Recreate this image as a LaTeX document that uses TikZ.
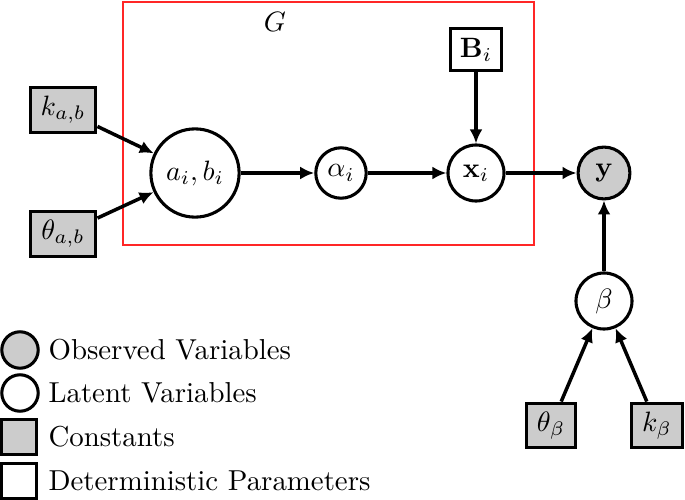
\documentclass[tikz,border=0pt]{standalone}
\usepackage{amsmath}
\usetikzlibrary{arrows.meta}
\begin{document}
\begin{tikzpicture}[x=0.357pt,y=-0.357pt,
  every node/.style={font=\fontsize{10.3pt}{12pt}\selectfont},
  var/.style={circle,draw,line width=1.1pt,inner sep=0pt},
  obs/.style={var,fill=black!20},
  const/.style={rectangle,draw,line width=1.1pt,fill=black!20,inner sep=0pt,minimum height=16pt},
  det/.style={rectangle,draw,line width=1.1pt,fill=white,inner sep=0pt},
  edge/.style={-{Latex[length=5pt,width=4.6pt]},line width=1.25pt},
  legtext/.style={anchor=west,inner sep=0pt}]
\useasboundingbox (0,0) rectangle (685,500);
% plate
\draw[red!85!white,line width=0.6pt] (123,2) rectangle (534,245);
\node (G) at (275,22) {$G$};
% nodes
\node[var,minimum size=31.5pt] (ab) at (195,173) {$a_i, b_i$};
\node[var,minimum size=18pt] (alpha) at (341,173) {$\alpha_i$};
\node[var,minimum size=20pt] (x) at (476,173) {$\mathbf{x}_i$};
\node[obs,minimum size=18.5pt] (y) at (604,173) {$\mathbf{y}$};
\node[var,minimum size=20pt] (beta) at (604,301) {$\beta$};
\node[det,minimum width=18.5pt,minimum height=15pt] (B) at (476,49.5) {$\mathbf{B}_i$};
\node[const,minimum width=23.5pt] (kab) at (63,110) {$k_{a,b}$};
\node[const,minimum width=23.5pt] (thab) at (63,234) {$\theta_{a,b}$};
\node[const,minimum width=17.5pt] (thb) at (551,425.5) {$\theta_\beta$};
\node[const,minimum width=18.2pt] (kb) at (657,425.5) {$k_\beta$};
% edges
\draw[edge] (kab) -- (ab);
\draw[edge] (thab) -- (ab);
\draw[edge] (ab) -- (alpha);
\draw[edge] (alpha) -- (x);
\draw[edge] (B) -- (x);
\draw[edge] (x) -- (y);
\draw[edge] (beta) -- (y);
\draw[edge] (thb) -- (beta);
\draw[edge] (kb) -- (beta);
% legend
\node[obs,minimum size=13pt] (l1) at (20,350) {};
\node[var,minimum size=13pt] (l2) at (20,393) {};
\node[const,minimum width=12.5pt,minimum height=12.5pt] (l3) at (19,437) {};
\node[det,minimum width=12.5pt,minimum height=12.5pt] (l4) at (19,481) {};
\node[legtext] (t1) at (48,350) {Observed Variables};
\node[legtext] (t2) at (48,393) {Latent Variables};
\node[legtext] (t3) at (48,437) {Constants};
\node[legtext] (t4) at (48,481) {Deterministic Parameters};
\end{tikzpicture}
\end{document}
